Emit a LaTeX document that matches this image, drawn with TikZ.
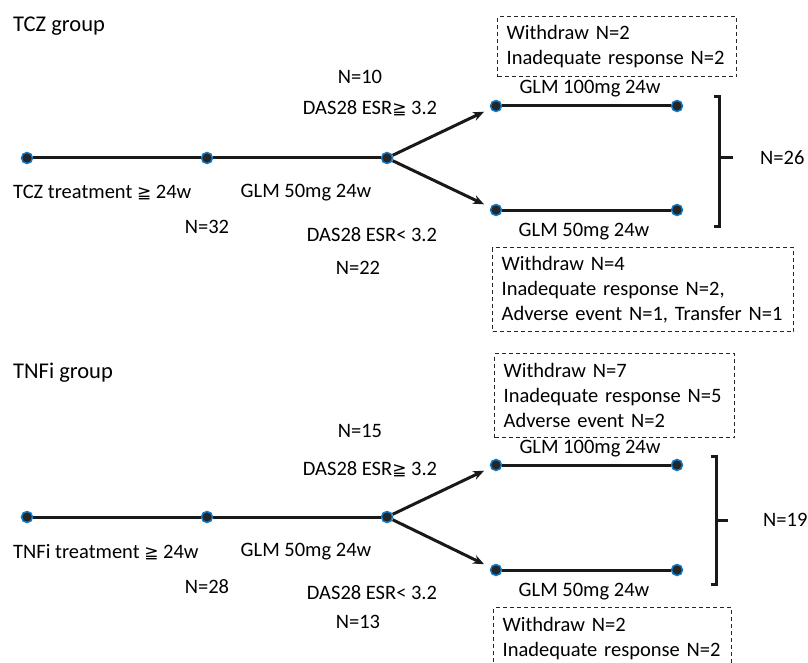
\documentclass[tikz,border=0pt]{standalone}
\usepackage{fontspec}
\usetikzlibrary{arrows.meta}
\setmainfont{Carlito}
\newfontfamily\symfnt{DejaVu Sans}
\newcommand{\gq}{{\symfnt\fontsize{17}{25}\selectfont ≧}}
\begin{document}
\begin{tikzpicture}[x=1pt,y=-1pt,every node/.style={font=\fontsize{20.5}{25}\selectfont}]

    % Styles
    \tikzstyle{dot} = [circle, fill=black!85, draw=cyan!60!blue, line width=1.5pt, minimum size=11pt, inner sep=0pt]
    \tikzstyle{txt} = [inner sep=0pt]
    \tikzstyle{title} = [inner sep=0pt, anchor=west, font=\fontsize{22.5}{25}\selectfont]
    \tikzstyle{dropbox} = [draw=black!85, dashed, dash pattern=on 4pt off 3pt, line width=1.3pt, align=left, anchor=north west, inner xsep=9pt, inner ysep=0pt]
    \tikzstyle{line} = [line width=3pt, black!90]
    \tikzstyle{arrow} = [line width=3pt, black!90, ->, >={Stealth[length=11pt,width=9pt]}, shorten >=7pt]

    \useasboundingbox (0,0) rectangle (808,663);
    \clip (0,0) rectangle (808,663);

    % TCZ group
    \node (tczTitle) [title] at (13,26) {TCZ group};
    \node (tczA) [dot] at (27,158) {};
    \node (tczB) [dot] at (207,158) {};
    \node (tczC) [dot] at (387,158) {};
    \node (tczHi1) [dot] at (496,106) {};
    \node (tczHi2) [dot] at (677,106) {};
    \node (tczLo1) [dot] at (496,210) {};
    \node (tczLo2) [dot] at (677,210) {};
    \coordinate (tczBrT) at (719,97);
    \coordinate (tczBrB) at (719,226);
    \coordinate (tczBrM) at (719,158);

    \node (tczPre) [txt, anchor=west] at (13,193) {TCZ treatment \gq\ 24w};
    \node (tczGlm) [txt] at (306,193) {GLM 50mg 24w};
    \node (tczN) [txt] at (207,227) {N=32};
    \node (tczNhi) [txt] at (360,77) {N=10};
    \node (tczDhi) [txt] at (370,108) {DAS28 ESR\gq\ 3.2};
    \node (tczDlo) [txt] at (372,235) {DAS28 ESR< 3.2};
    \node (tczNlo) [txt] at (358,268) {N=22};
    \node (tczGhi) [txt] at (590,89) {GLM 100mg 24w};
    \node (tczGlo) [txt] at (584,232) {GLM 50mg 24w};
    \node (tczTot) [txt, anchor=west] at (760,158) {N=26};
    \node (tczBoxHi) [dropbox, text width=221pt, minimum height=60pt] at (497,16) {Withdraw N=2\\Inadequate response N=2};
    \node (tczBoxLo) [dropbox, text width=283pt, minimum height=84pt] at (492,247) {Withdraw N=4\\Inadequate response N=2,\\Adverse event N=1, Transfer N=1};

    \draw [line] (tczA) -- (tczB);
    \draw [line] (tczB) -- (tczC);
    \draw [arrow] (tczC) -- (tczHi1);
    \draw [arrow] (tczC) -- (tczLo1);
    \draw [line] (tczHi1) -- (tczHi2);
    \draw [line] (tczLo1) -- (tczLo2);
    \draw [line] ([xshift=-5pt]tczBrT) -- (tczBrT) -- (tczBrB) -- ([xshift=-5pt]tczBrB);
    \draw [line] (tczBrM) -- ++(14,0);

    % TNFi group
    \node (tnfTitle) [title] at (13,373) {TNFi group};
    \node (tnfA) [dot] at (27,517) {};
    \node (tnfB) [dot] at (207,517) {};
    \node (tnfC) [dot] at (387,517) {};
    \node (tnfHi1) [dot] at (496,465) {};
    \node (tnfHi2) [dot] at (677,465) {};
    \node (tnfLo1) [dot] at (496,570) {};
    \node (tnfLo2) [dot] at (677,570) {};
    \coordinate (tnfBrT) at (716,456);
    \coordinate (tnfBrB) at (716,584);
    \coordinate (tnfBrM) at (716,520);

    \node (tnfPre) [txt, anchor=west] at (13,552) {TNFi treatment \gq\ 24w};
    \node (tnfGlm) [txt] at (306,552) {GLM 50mg 24w};
    \node (tnfN) [txt] at (207,587) {N=28};
    \node (tnfNhi) [txt] at (360,431) {N=15};
    \node (tnfDhi) [txt] at (370,469) {DAS28 ESR\gq\ 3.2};
    \node (tnfDlo) [txt] at (372,593) {DAS28 ESR< 3.2};
    \node (tnfNlo) [txt] at (358,622) {N=13};
    \node (tnfGhi) [txt] at (590,449) {GLM 100mg 24w};
    \node (tnfGlo) [txt] at (584,592) {GLM 50mg 24w};
    \node (tnfTot) [txt, anchor=west] at (763,520) {N=19};
    \node (tnfBoxHi) [dropbox, text width=222pt, minimum height=84pt] at (494,353) {Withdraw N=7\\Inadequate response N=5\\Adverse event N=2};
    \node (tnfBoxLo) [dropbox, text width=220pt, minimum height=62pt] at (493,607) {Withdraw N=2\\Inadequate response N=2};

    \draw [line] (tnfA) -- (tnfB);
    \draw [line] (tnfB) -- (tnfC);
    \draw [arrow] (tnfC) -- (tnfHi1);
    \draw [arrow] (tnfC) -- (tnfLo1);
    \draw [line] (tnfHi1) -- (tnfHi2);
    \draw [line] (tnfLo1) -- (tnfLo2);
    \draw [line] ([xshift=-5pt]tnfBrT) -- (tnfBrT) -- (tnfBrB) -- ([xshift=-5pt]tnfBrB);
    \draw [line] (tnfBrM) -- ++(12,0);

\end{tikzpicture}
\end{document}
